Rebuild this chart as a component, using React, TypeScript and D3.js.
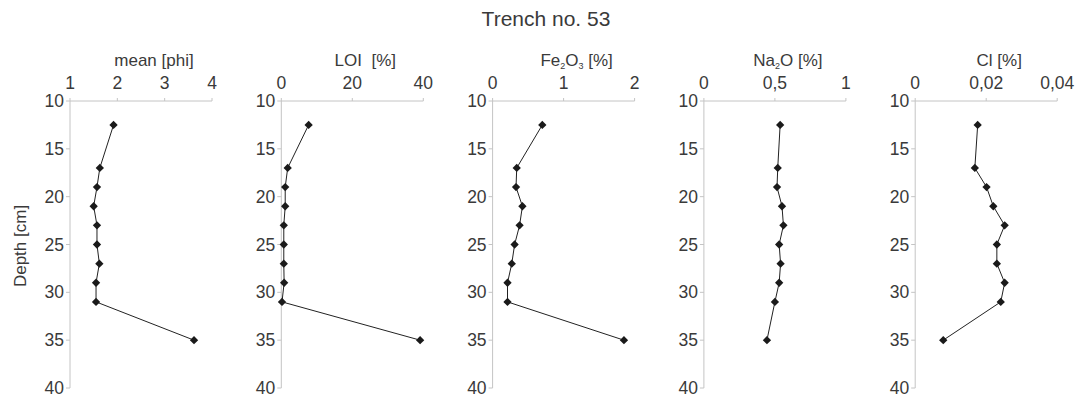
import React, { useEffect, useRef } from 'react';
import * as d3 from 'd3';

const depths = [12.5, 17, 19, 21, 23, 25, 27, 29, 31, 35];

const meanPhi = [1.92, 1.63, 1.57, 1.5, 1.57, 1.57, 1.62, 1.55, 1.55, 3.62];
const loi = [7.7, 1.8, 1.1, 1.1, 0.7, 0.7, 0.7, 0.8, 0.2, 39.1];
const fe2o3 = [0.7, 0.34, 0.33, 0.42, 0.38, 0.31, 0.27, 0.21, 0.21, 1.85];
const na2o = [0.537, 0.52, 0.515, 0.55, 0.56, 0.53, 0.54, 0.53, 0.5, 0.444];
const cl = [0.0176, 0.0168, 0.0201, 0.022, 0.0252, 0.023, 0.023, 0.0252, 0.0241, 0.0079];

const depthTicks = [10, 15, 20, 25, 30, 35, 40];

interface Panel {
  title: [string, string][]; // [text, 'n' | 'sub']
  domain: [number, number];
  ticks: number[];
  tickLabels: string[];
  values: number[];
}

const panels: Panel[] = [
  { title: [['mean [phi]', 'n']], domain: [1, 4], ticks: [1, 2, 3, 4], tickLabels: ['1', '2', '3', '4'], values: meanPhi },
  { title: [['LOI  [%]', 'n']], domain: [0, 40], ticks: [0, 20, 40], tickLabels: ['0', '20', '40'], values: loi },
  { title: [['Fe', 'n'], ['2', 'sub'], ['O', 'n'], ['3', 'sub'], [' [%]', 'n']], domain: [0, 2], ticks: [0, 1, 2], tickLabels: ['0', '1', '2'], values: fe2o3 },
  { title: [['Na', 'n'], ['2', 'sub'], ['O [%]', 'n']], domain: [0, 1], ticks: [0, 0.5, 1], tickLabels: ['0', '0,5', '1'], values: na2o },
  { title: [['Cl [%]', 'n']], domain: [0, 0.04], ticks: [0, 0.02, 0.04], tickLabels: ['0', '0,02', '0,04'], values: cl },
];

const W = 1078;
const H = 400;

const App = () => {
  const ref = useRef<SVGSVGElement | null>(null);

  useEffect(() => {
    if (!ref.current) return;
    const svg = d3.select(ref.current);
    svg.selectAll('*').remove();

    const font = 'Liberation Sans, Arial, sans-serif';
    const textColor = '#3a3a3a';
    const axisColor = '#c4c4c4';

    const y = d3.scaleLinear().domain([10, 40]).range([101, 388]);

    svg.append('text')
      .attr('x', 546).attr('y', 26)
      .attr('text-anchor', 'middle')
      .attr('font-family', font).attr('font-size', 21)
      .attr('fill', textColor)
      .text('Trench no. 53');

    svg.append('text')
      .attr('transform', `translate(26, 246) rotate(-90)`)
      .attr('text-anchor', 'middle')
      .attr('font-family', font).attr('font-size', 17)
      .attr('fill', textColor)
      .text('Depth [cm]');

    const panelW = 142;

    panels.forEach((p, i) => {
      const left = 70 + i * 211.3;
      const x = d3.scaleLinear().domain(p.domain).range([left, left + panelW]);
      const g = svg.append('g');

      // top axis
      g.append('line')
        .attr('x1', x(p.domain[0])).attr('x2', x(p.domain[1]))
        .attr('y1', y(10)).attr('y2', y(10))
        .attr('stroke', axisColor).attr('stroke-width', 1);
      p.ticks.forEach((t, k) => {
        g.append('line')
          .attr('x1', x(t)).attr('x2', x(t))
          .attr('y1', y(10)).attr('y2', y(10) - 3)
          .attr('stroke', axisColor);
        g.append('text')
          .attr('x', x(t)).attr('y', 89)
          .attr('text-anchor', 'middle')
          .attr('font-family', font).attr('font-size', 17.5)
          .attr('fill', textColor)
          .text(p.tickLabels[k]);
      });

      // left axis
      g.append('line')
        .attr('x1', left).attr('x2', left)
        .attr('y1', y(10)).attr('y2', y(40))
        .attr('stroke', axisColor);
      depthTicks.forEach(t => {
        g.append('line')
          .attr('x1', left - 4).attr('x2', left)
          .attr('y1', y(t)).attr('y2', y(t))
          .attr('stroke', axisColor);
        g.append('text')
          .attr('x', left - 6).attr('y', y(t) + 6)
          .attr('text-anchor', 'end')
          .attr('font-family', font).attr('font-size', 17.5)
          .attr('fill', textColor)
          .text(String(t));
      });

      // axis title, with subscripts
      const title = g.append('text')
        .attr('x', left + panelW / 2 + 13).attr('y', 66)
        .attr('text-anchor', 'middle')
        .attr('font-family', font).attr('font-size', 17)
        .attr('fill', textColor)
        .style('white-space', 'pre');
      let shift = 0;
      p.title.forEach(([txt, kind]) => {
        const ts = title.append('tspan').text(txt);
        const dy = kind === 'sub' ? 3 - shift : -shift;
        shift = kind === 'sub' ? 3 : 0;
        ts.attr('dy', dy);
        if (kind === 'sub') ts.attr('font-size', 9);
      });

      // data line + markers
      const pts = depths.map((d, k) => [x(p.values[k]), y(d)] as [number, number]);
      g.append('path')
        .attr('d', d3.line()(pts))
        .attr('fill', 'none')
        .attr('stroke', '#222')
        .attr('stroke-width', 1);
      const diamond = d3.symbol().type(d3.symbolDiamond2).size(44);
      g.selectAll('.pt')
        .data(pts)
        .enter().append('path')
        .attr('class', 'pt')
        .attr('transform', d => `translate(${d[0]},${d[1]})`)
        .attr('d', diamond)
        .attr('fill', '#1a1a1a');
    });
  }, []);

  return (
    <svg
      ref={ref}
      width={W}
      height={H}
      style={{ position: 'absolute', left: 0, top: 0, background: '#fff' }}
    />
  );
};

export default App;
